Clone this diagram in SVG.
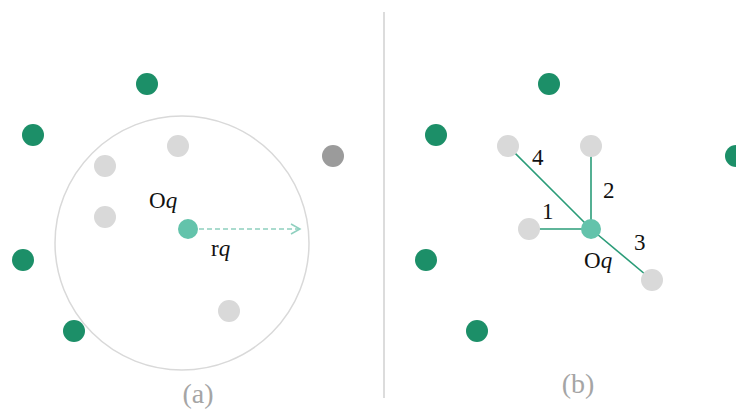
<svg xmlns="http://www.w3.org/2000/svg" width="736" height="410" viewBox="0 0 736 410">
<defs>
<style>
.g{fill:#1c8f68}
.dg{fill:#9b9b9b}
.lg{fill:#d9d9d9}
.c{fill:#63c3ab}
.t{font-family:"Liberation Serif",serif;font-size:23px;fill:#111}
.cap{font-family:"Liberation Serif",serif;font-size:28px;fill:#a5a5a5}
.e{stroke:#2a9c78;stroke-width:1.6;fill:none}
</style>
<marker id="ah" markerWidth="12" markerHeight="12" refX="10" refY="6" orient="auto" markerUnits="userSpaceOnUse">
<path d="M1,1 L10,6 L1,11" fill="none" stroke="#8fd0bf" stroke-width="1.5"/>
</marker>
</defs>
<rect width="736" height="410" fill="#fff"/>
<line x1="384" y1="12" x2="384" y2="398" stroke="#d0d0d0" stroke-width="1.5"/>
<g id="panel-a">
<circle id="range" cx="182" cy="243" r="127" fill="none" stroke="#d9d9d9" stroke-width="1.5"/>
<g id="a-green"><circle class="g" cx="147" cy="84" r="11"/><circle class="g" cx="33" cy="135" r="11"/><circle class="g" cx="23" cy="260" r="11"/><circle class="g" cx="74" cy="331" r="11"/></g>
<circle id="a-dark" class="dg" cx="333" cy="156" r="11"/>
<g id="a-gray"><circle class="lg" cx="178" cy="146" r="11"/><circle class="lg" cx="105" cy="166" r="11"/><circle class="lg" cx="105" cy="217" r="11"/><circle class="lg" cx="229" cy="311" r="11"/></g>
<g id="a-connectors"><line x1="199" y1="229" x2="300" y2="229" stroke="#8fd0bf" stroke-width="1.6" stroke-dasharray="5,3" marker-end="url(#ah)"/></g>
<g id="a-q"><circle class="c" cx="188" cy="229" r="10"/></g>
<text class="t" x="149" y="208">O<tspan font-style="italic">q</tspan></text>
<text class="t" x="211" y="256">r<tspan font-style="italic">q</tspan></text>
<text class="cap" x="198" y="403" text-anchor="middle">(a)</text>
</g>
<g id="panel-b">
<g id="b-connectors">
<line class="e" x1="591" y1="229" x2="508" y2="146"/>
<line class="e" x1="591" y1="229" x2="591" y2="146"/>
<line class="e" x1="591" y1="229" x2="529" y2="229"/>
<line class="e" x1="591" y1="229" x2="652" y2="280"/>
</g>
<g id="b-green"><circle class="g" cx="549" cy="84" r="11"/><circle class="g" cx="436" cy="135" r="11"/><circle class="g" cx="426" cy="260" r="11"/><circle class="g" cx="477" cy="331" r="11"/><circle class="g" cx="736" cy="156" r="11"/></g>
<g id="b-gray"><circle class="lg" cx="508" cy="146" r="11"/><circle class="lg" cx="591" cy="146" r="11"/><circle class="lg" cx="529" cy="229" r="11"/><circle class="lg" cx="652" cy="280" r="11"/></g>
<g id="b-q"><circle class="c" cx="591" cy="229" r="10"/></g>
<text class="t" x="532" y="165">4</text>
<text class="t" x="603" y="198">2</text>
<text class="t" x="542" y="219">1</text>
<text class="t" x="634" y="250">3</text>
<text class="t" x="584" y="268">O<tspan font-style="italic">q</tspan></text>
<text class="cap" x="578" y="393" text-anchor="middle">(b)</text>
</g>
</svg>
